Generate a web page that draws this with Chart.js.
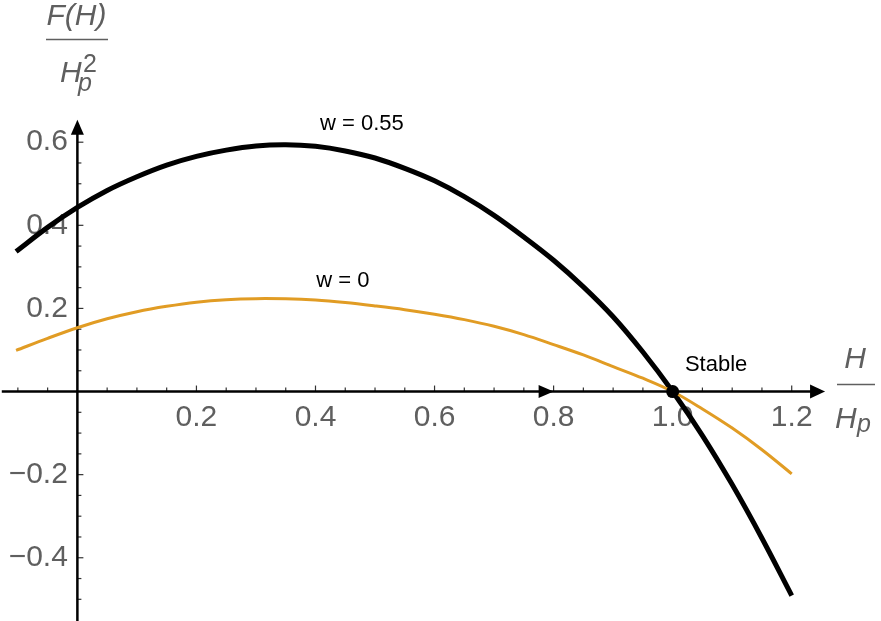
<!DOCTYPE html>
<html>
<head>
<meta charset="utf-8">
<script src="https://cdn.jsdelivr.net/npm/chart.js@4/dist/chart.umd.min.js"></script>
<style>
html,body{margin:0;padding:0;background:#fff;}
#wrap{width:881px;height:621px;position:relative;}
</style>
</head>
<body>
<div id="wrap"><canvas id="c" width="881" height="621"></canvas></div>
<script>
// ---- data ----
const hValues = [-0.103,-0.05,0,0.05,0.1,0.15,0.2,0.25,0.3,0.35,0.4,0.45,0.5,0.55,0.6,0.65,0.7,0.75,0.8,0.85,0.9,0.95,1.0,1.05,1.1,1.15,1.2];
const fW055 = [0.337,0.395,0.443,0.484,0.517,0.545,0.566,0.581,0.591,0.594,0.590,0.579,0.562,0.537,0.507,0.469,0.424,0.372,0.316,0.252,0.180,0.095,0,-0.106,-0.224,-0.353,-0.491];
const fW0 = [0.099,0.128,0.1535,0.175,0.192,0.205,0.215,0.221,0.2235,0.223,0.220,0.214,0.206,0.197,0.186,0.173,0.157,0.137,0.113,0.088,0.060,0.032,0,-0.042,-0.088,-0.140,-0.198];
const stablePoint = [1.0, 0];
const xTickValues = [0.2,0.4,0.6,0.8,1.0,1.2];
const xTickLabels = ['0.2','0.4','0.6','0.8','1.0','1.2'];
const yTickValues = [-0.4,-0.2,0.2,0.4,0.6];
const yTickLabels = ['\u22120.4','\u22120.2','0.2','0.4','0.6'];
const curveLabels = ['w = 0.55','w = 0','Stable'];
const curveLabelX = [0.478,0.446,1.073];
const curveLabelY = [0.643,0.265,0.063];

// ---- styling / geometry ----
const X_MIN = -0.13, X_MAX = 1.35, Y_MIN = -0.48, Y_MAX = 0.87;
const X_AXIS_START = -0.127, X_AXIS_TIP = 1.256, Y_AXIS_TIP = 0.654, MID_ARROW = 0.8;
const ORANGE = '#E19C24';
const GREY = '#5f5f5f';
const FONT = '"Liberation Sans", Arial, sans-serif';

const toPts = (xs, ys) => xs.map((x, i) => ({x: x, y: ys[i]}));

function minorSteps(a, b, step) {
  const out = [];
  const n = Math.round((b - a) / step);
  for (let i = 0; i <= n; i++) out.push(+(a + i * step).toFixed(4));
  return out;
}

const axesPlugin = {
  id: 'mathAxes',
  beforeDatasetsDraw(chart) {
    const {ctx, scales: {x, y}} = chart;
    const x0 = x.getPixelForValue(0), y0 = y.getPixelForValue(0);
    ctx.save();
    ctx.fillStyle = '#000';
    ctx.lineWidth = 1.2;
    ctx.strokeStyle = '#333';
    minorSteps(-0.1, 1.2, 0.05).forEach(v => {
      if (Math.abs(v) < 1e-6) return;
      const major = Math.abs(v * 5 - Math.round(v * 5)) < 1e-6;
      const px = x.getPixelForValue(v);
      ctx.beginPath(); ctx.moveTo(px, y0); ctx.lineTo(px, y0 - (major ? 6 : 4)); ctx.stroke();
    });
    minorSteps(-0.5, 0.6, 0.05).forEach(v => {
      if (Math.abs(v) < 1e-6) return;
      const major = Math.abs(v * 5 - Math.round(v * 5)) < 1e-6;
      const py = y.getPixelForValue(v);
      ctx.beginPath(); ctx.moveTo(x0, py); ctx.lineTo(x0 + (major ? 6 : 4), py); ctx.stroke();
    });
    ctx.strokeStyle = '#000';
    ctx.lineWidth = 2.5;
    const yTip = y.getPixelForValue(Y_AXIS_TIP);
    ctx.beginPath(); ctx.moveTo(x0, chart.height); ctx.lineTo(x0, yTip + 10); ctx.stroke();
    ctx.beginPath(); ctx.moveTo(x0, yTip); ctx.lineTo(x0 - 6.5, yTip + 15); ctx.lineTo(x0 + 6.5, yTip + 15); ctx.closePath(); ctx.fill();
    const xStart = x.getPixelForValue(X_AXIS_START), xTip = x.getPixelForValue(X_AXIS_TIP);
    ctx.beginPath(); ctx.moveTo(xStart, y0); ctx.lineTo(xTip - 10, y0); ctx.stroke();
    ctx.beginPath(); ctx.moveTo(xTip, y0); ctx.lineTo(xTip - 15, y0 - 7); ctx.lineTo(xTip - 15, y0 + 7); ctx.closePath(); ctx.fill();
    const xm = x.getPixelForValue(MID_ARROW);
    ctx.beginPath(); ctx.moveTo(xm, y0); ctx.lineTo(xm - 15, y0 - 6.5); ctx.lineTo(xm - 15, y0 + 6.5); ctx.closePath(); ctx.fill();
    ctx.restore();
  },
  afterDraw(chart) {
    const {ctx, scales: {x, y}} = chart;
    ctx.save();
    ctx.fillStyle = '#000';
    ctx.font = '22px ' + FONT;
    ctx.textAlign = 'center'; ctx.textBaseline = 'middle';
    curveLabels.forEach((t, i) => {
      ctx.fillText(t, x.getPixelForValue(curveLabelX[i]), y.getPixelForValue(curveLabelY[i]));
    });
    ctx.fillStyle = GREY; ctx.strokeStyle = GREY;
    ctx.textBaseline = 'alphabetic';
    ctx.textAlign = 'center';
    ctx.font = 'italic 30px ' + FONT;
    ctx.fillText('F(H)', 76.5, 25);
    ctx.lineWidth = 1.6;
    ctx.beginPath(); ctx.moveTo(46, 39.5); ctx.lineTo(108, 39.5); ctx.stroke();
    ctx.textAlign = 'left';
    ctx.fillText('H', 60, 82);
    ctx.font = '25px ' + FONT;
    ctx.fillText('2', 83, 72);
    ctx.font = 'italic 25px ' + FONT;
    ctx.fillText('p', 78, 91);
    ctx.font = 'italic 30px ' + FONT;
    ctx.textAlign = 'center';
    ctx.fillText('H', 855, 368);
    ctx.beginPath(); ctx.moveTo(837, 384.5); ctx.lineTo(875, 384.5); ctx.stroke();
    ctx.textAlign = 'left';
    ctx.fillText('H', 835, 428);
    ctx.font = 'italic 25px ' + FONT;
    ctx.fillText('p', 857, 432);
    ctx.restore();
  }
};

new Chart(document.getElementById('c'), {
  type: 'scatter',
  data: {
    datasets: [
      {label: 'w = 0', data: toPts(hValues, fW0), showLine: true, borderColor: ORANGE, borderWidth: 3,
       pointRadius: 0, tension: 0.35, fill: false, clip: false, order: 2},
      {label: 'w = 0.55', data: toPts(hValues, fW055), showLine: true, borderColor: '#000', borderWidth: 5,
       pointRadius: 0, tension: 0.35, fill: false, clip: false, order: 3},
      {label: 'Stable', data: [{x: stablePoint[0], y: stablePoint[1]}], pointRadius: 6.5,
       backgroundColor: '#000', borderWidth: 0, clip: false, order: 1}
    ]
  },
  options: {
    responsive: false, animation: false, events: [],
    layout: {autoPadding: false, padding: {top: 30, bottom: 30, left: 0, right: 0}},
    plugins: {legend: {display: false}, tooltip: {enabled: false}},
    scales: {
      x: {
        type: 'linear', min: X_MIN, max: X_MAX, position: {y: 0},
        grid: {display: false, drawTicks: false}, border: {display: false},
        afterBuildTicks: s => { s.ticks = xTickValues.map(v => ({value: v})); },
        ticks: {
          callback: v => xTickLabels[xTickValues.indexOf(v)],
          color: GREY, font: {family: FONT, size: 30}, padding: 8,
          maxRotation: 0, minRotation: 0, autoSkip: false
        }
      },
      y: {
        type: 'linear', min: Y_MIN, max: Y_MAX, position: {x: -0.016},
        grid: {display: false, drawTicks: false}, border: {display: false},
        afterBuildTicks: s => { s.ticks = yTickValues.map(v => ({value: v})); },
        ticks: {
          callback: v => yTickLabels[yTickValues.indexOf(v)],
          color: GREY, font: {family: FONT, size: 30}, padding: 0, autoSkip: false
        }
      }
    }
  },
  plugins: [axesPlugin]
});
</script>
</body>
</html>
